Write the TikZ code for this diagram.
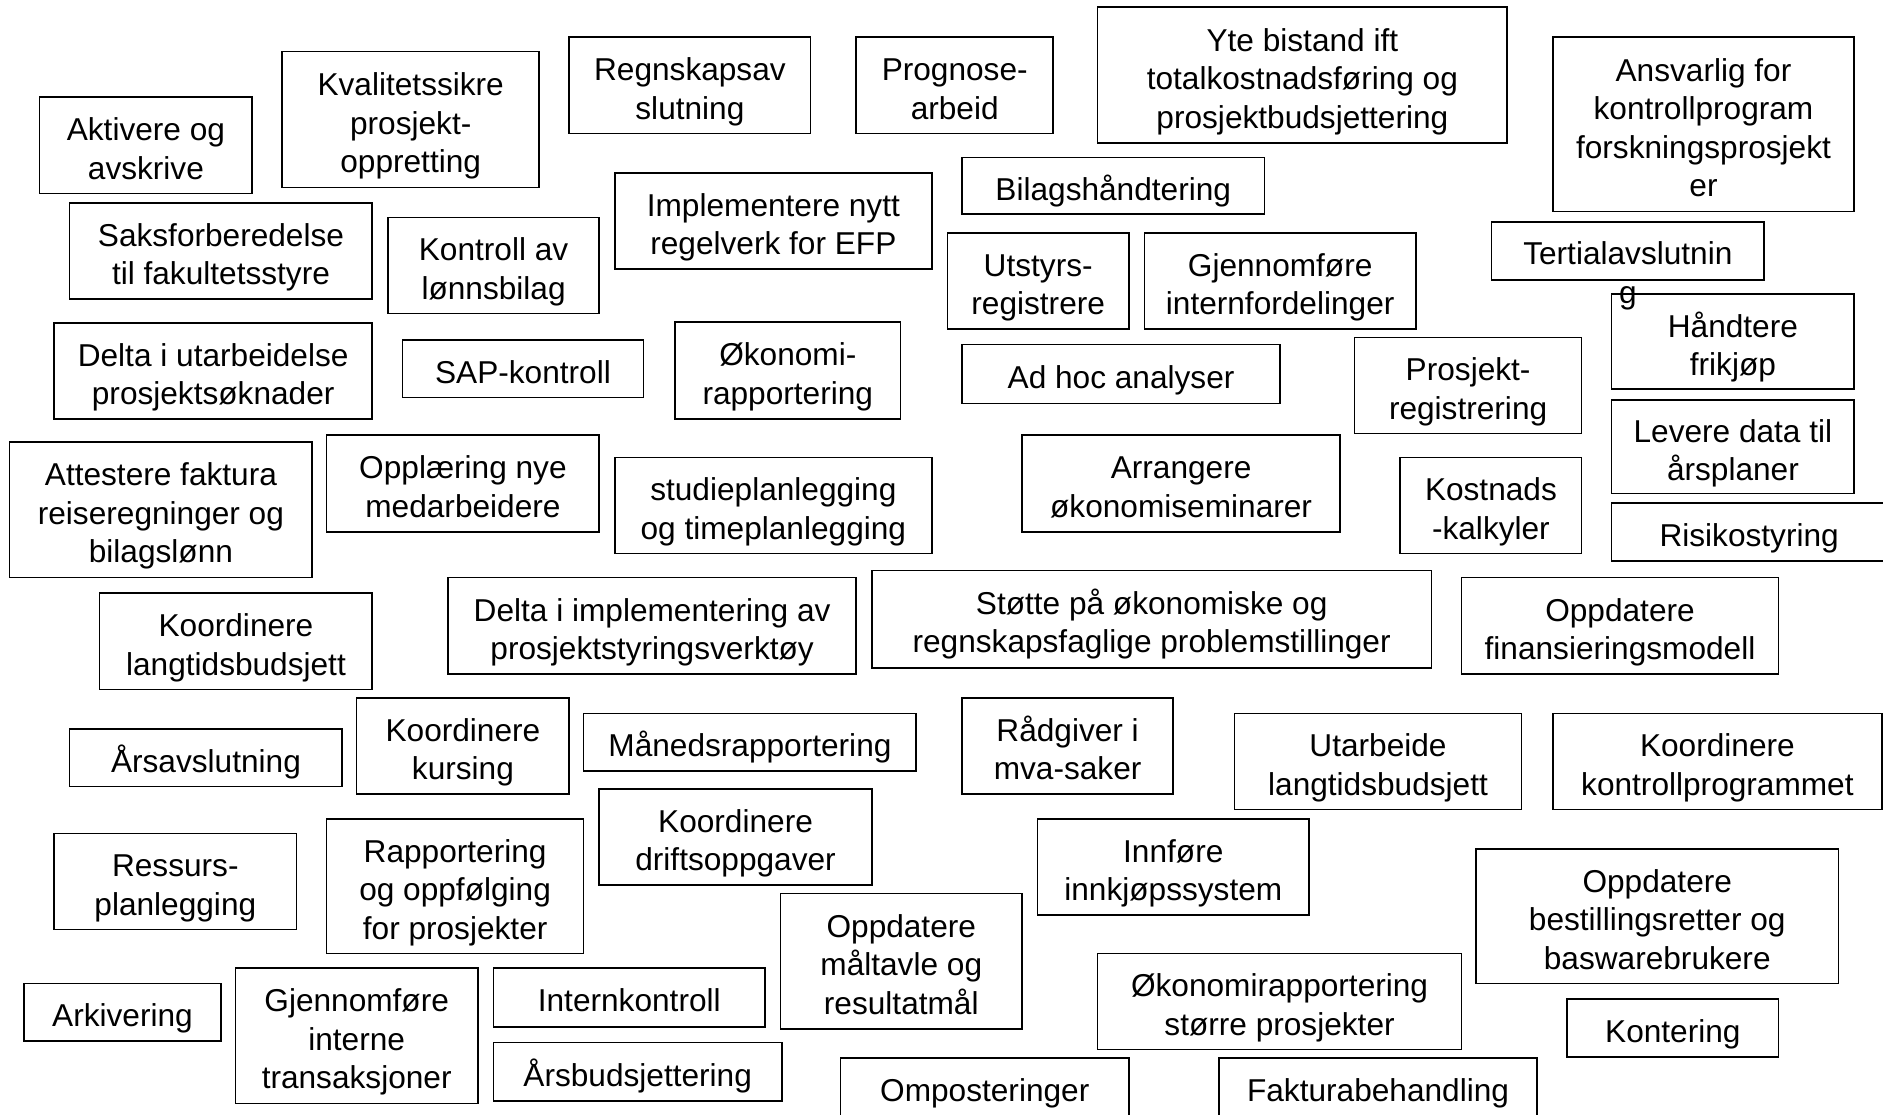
\documentclass[tikz,border=0pt]{standalone}
\usepackage{fontspec}
\setmainfont{Liberation Sans}
% invisible rules giving every box the same first-line height and last-line depth
\newcommand\toplinestrut{\rule{0pt}{1.14em}}
\newcommand\botlinestrut{\rule[-0.22em]{0pt}{0.22em}}
\begin{document}
\begin{tikzpicture}[x=0.6pt,y=-0.6pt,
  taskbox/.style={draw, line width=0.8pt, inner sep=0pt, outer sep=0pt, align=center,
    font=\fontsize{15.8}{19.2}\selectfont},
  freetext/.style={inner sep=0pt, align=center, font=\fontsize{15.8}{19.2}\selectfont}]
% box given by left, top, right, bottom edges
\newcommand\task[6]{%
  \node[taskbox, minimum width={(#4-#2)*0.6pt}, minimum height={(#5-#3)*0.6pt}]
    (#1) at ({(#2+#4)/2},{(#3+#5)/2}) {\toplinestrut#6\botlinestrut};}
\useasboundingbox (0,0) rectangle (1568,928);
\fill[white] (0,0) rectangle (1568,928);

\task{akt}{33}{81}{210}{161}{Aktivere og\\avskrive}
\task{kval}{235}{43}{449}{156}{Kvalitetssikre\\prosjekt-\\oppretting}
\task{regn}{474}{31}{675}{111}{Regnskapsav\\slutning}
\task{prog}{713}{31}{877}{111}{Prognose-\\arbeid}
\task{yte}{914}{6}{1255}{119}{Yte bistand ift\\totalkostnadsføring og\\prosjektbudsjettering}
\task{ansv}{1293}{31}{1544}{176}{Ansvarlig for\\kontrollprogram\\forskningsprosjekt\\er}
\task{bilag}{801}{131}{1053}{178}{Bilagshåndtering}
\task{impl}{512}{144}{776}{224}{Implementere nytt\\regelverk for EFP}
\task{saks}{58}{169}{310}{249}{Saksforberedelse\\til fakultetsstyre}
\task{kontr}{323}{181}{499}{261}{Kontroll av\\lønnsbilag}
\task{utst}{789}{194}{940}{274}{Utstyrs-\\registrere}
\task{gjif}{953}{194}{1179}{274}{Gjennomføre\\internfordelinger}
\task{tert}{1242}{185}{1469}{233}{}
\node[freetext, anchor=north] (tertt) at (1355.5,201) {Tertialavslutnin\\g};
\task{frik}{1342}{245}{1544}{324}{Håndtere\\frikjøp}
\task{delta}{45}{269}{310}{349}{Delta i utarbeidelse\\prosjektsøknader}
\task{sap}{335}{283}{536}{331}{SAP-kontroll}
\task{okrap}{562}{268}{750}{349}{Økonomi-\\rapportering}
\task{adhoc}{801}{287}{1066}{336}{Ad hoc analyser}
\task{prosreg}{1128}{281}{1317}{361}{Prosjekt-\\registrering}
\task{levere}{1342}{333}{1544}{411}{Levere data til\\årsplaner}
\task{attest}{8}{368}{260}{481}{Attestere faktura\\reiseregninger og\\bilagslønn}
\task{oppl}{272}{362}{499}{443}{Opplæring nye\\medarbeidere}
\task{studie}{512}{381}{776}{461}{studieplanlegging\\og timeplanlegging}
\task{arr}{851}{362}{1116}{443}{Arrangere\\økonomiseminarer}
\task{kost}{1166}{381}{1317}{461}{Kostnads\\-kalkyler}
\task{risiko}{1342}{419}{1571}{467}{Risikostyring}
\task{koordlang}{83}{494}{310}{574}{Koordinere\\langtidsbudsjett}
\task{deltaimpl}{373}{481}{713}{561}{Delta i implementering av\\prosjektstyringsverktøy}
\task{stotte}{726}{475}{1192}{556}{Støtte på økonomiske og\\regnskapsfaglige problemstillinger}
\task{oppdfin}{1217}{481}{1481}{561}{Oppdatere\\finansieringsmodell}
\task{arsavsl}{58}{607}{285}{655}{Årsavslutning}
\task{koordkurs}{297}{581}{474}{661}{Koordinere\\kursing}
\task{maned}{486}{594}{763}{642}{Månedsrapportering}
\task{radg}{801}{581}{977}{661}{Rådgiver i\\mva-saker}
\task{utarb}{1028}{594}{1267}{674}{Utarbeide\\langtidsbudsjett}
\task{koordkontr}{1293}{594}{1567.2}{674}{Koordinere\\kontrollprogrammet}
\task{ressurs}{45}{694}{247}{774}{Ressurs-\\planlegging}
\task{rapp}{272}{682}{486}{794}{Rapportering\\og oppfølging\\for prosjekter}
\task{koorddrift}{499}{657}{726}{737}{Koordinere\\driftsoppgaver}
\task{innf}{864}{682}{1090}{762}{Innføre\\innkjøpssystem}
\task{oppdbest}{1229}{707}{1531}{819}{Oppdatere\\bestillingsretter og\\baswarebrukere}
\task{maltavle}{650}{744}{851}{857}{Oppdatere\\måltavle og\\resultatmål}
\task{ark}{20}{819}{184}{867}{Arkivering}
\task{gjint}{196}{806}{398}{919}{Gjennomføre\\interne\\transaksjoner}
\task{intk}{411}{806}{637}{855}{Internkontroll}
\task{okstor}{914}{794}{1217}{874}{Økonomirapportering\\større prosjekter}
\task{kont}{1305}{832}{1481}{880}{Kontering}
\task{arsbud}{411}{868}{651}{917}{Årsbudsjettering}
\task{ompost}{700}{881}{940}{930}{Omposteringer}
\task{faktura}{1015}{881}{1280}{930}{Fakturabehandling}
\end{tikzpicture}
\end{document}
